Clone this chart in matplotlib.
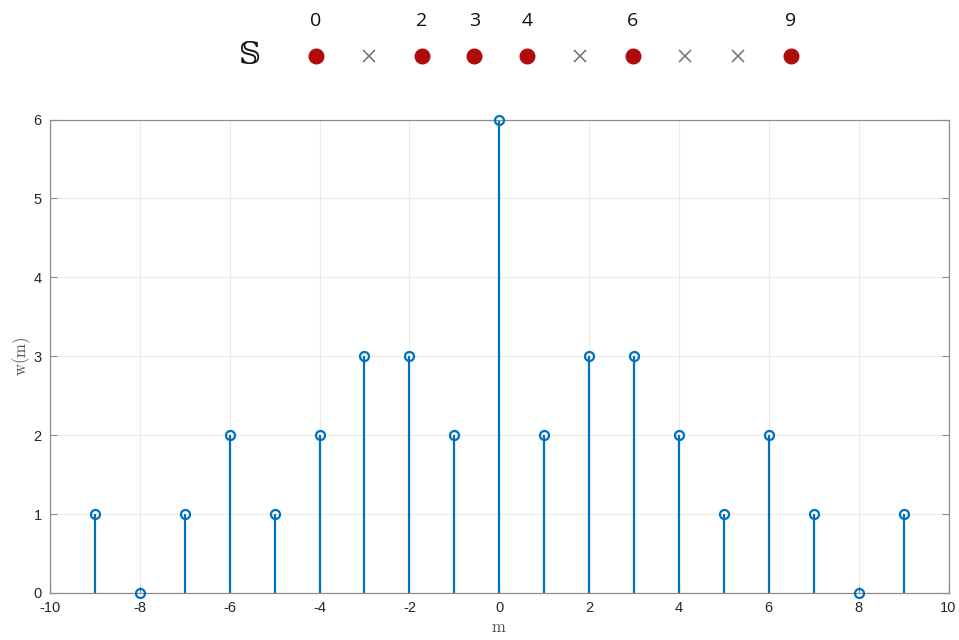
import matplotlib
matplotlib.use("Agg")
import matplotlib.pyplot as plt
import numpy as np

# Data
m = [-9, -8, -7, -6, -5, -4, -3, -2, -1, 0, 1, 2, 3, 4, 5, 6, 7, 8, 9]
w = [1, 0, 1, 2, 1, 2, 3, 3, 2, 6, 2, 3, 3, 2, 1, 2, 1, 0, 1]
set_members = [0, 2, 3, 4, 6, 9]
non_members = [1, 5, 7, 8]
set_labels = ["0", "2", "3", "4", "6", "9"]

W, H = 959, 640
plt.rcParams['mathtext.fontset'] = 'cm'
plt.rcParams['axes.unicode_minus'] = False
plt.rcParams['font.family'] = ['Liberation Sans', 'DejaVu Sans']
fig = plt.figure(figsize=(W / 100, H / 100), dpi=100)

# Main stem axes
ax = fig.add_axes([50 / W, (H - 593) / H, (948.5 - 50) / W, (593 - 119.5) / H])
blue = "#0072BD"
markerline, stemlines, baseline = ax.stem(m, w, basefmt=" ")
plt.setp(stemlines, color=blue, linewidth=1.6)
plt.setp(markerline, color=blue, marker="o", markersize=6.5,
         markerfacecolor="none", markeredgewidth=1.6, clip_on=False, zorder=5)
ax.set_xlim(-10, 10)
ax.set_ylim(0, 6)
ax.set_xticks(np.arange(-10, 11, 2))
ax.set_yticks(np.arange(0, 7, 1))
ax.grid(True, color="#ececec", linewidth=0.8)
ax.set_axisbelow(True)
for s in ax.spines.values():
    s.set_color("#8c8c8c")
    s.set_linewidth(0.9)
ax.tick_params(direction="in", length=5, width=0.8, color="#8c8c8c",
               labelsize=10.5, labelcolor="#262626", top=False, right=True,
               pad=6)
ax.set_xlabel(r"$\mathrm{m}$", fontsize=12, color="#555555", labelpad=3)
ax.set_ylabel(r"$\mathrm{w(m)}$", fontsize=12, color="#555555", labelpad=0)

# Top set strip
axs = fig.add_axes([316 / W, (H - 90) / H, (791 - 316) / W, 90 / H])
axs.set_xlim(0, 9)
axs.set_ylim(90, 0)
axs.axis("off")
red = "#B00A0A"
axs.plot(set_members, [56] * len(set_members), linestyle="none", marker="o",
         markersize=10.5, color=red, clip_on=False)
axs.plot(non_members, [56] * len(non_members), linestyle="none", marker="x",
         markersize=8, markeredgewidth=1.1, color="#707070", clip_on=False)
for xv, lab in zip(set_members, set_labels):
    axs.text(xv, 21, lab, ha="center", va="center", fontsize=14,
             family="Open Sans", color="#111111")
axs.text(-1.25, 56, "\U0001D54A", ha="center", va="center", fontsize=22,
         family=["DejaVu Serif", "DejaVu Sans"], color="#111111")

fig.savefig("out.png", dpi=100)
